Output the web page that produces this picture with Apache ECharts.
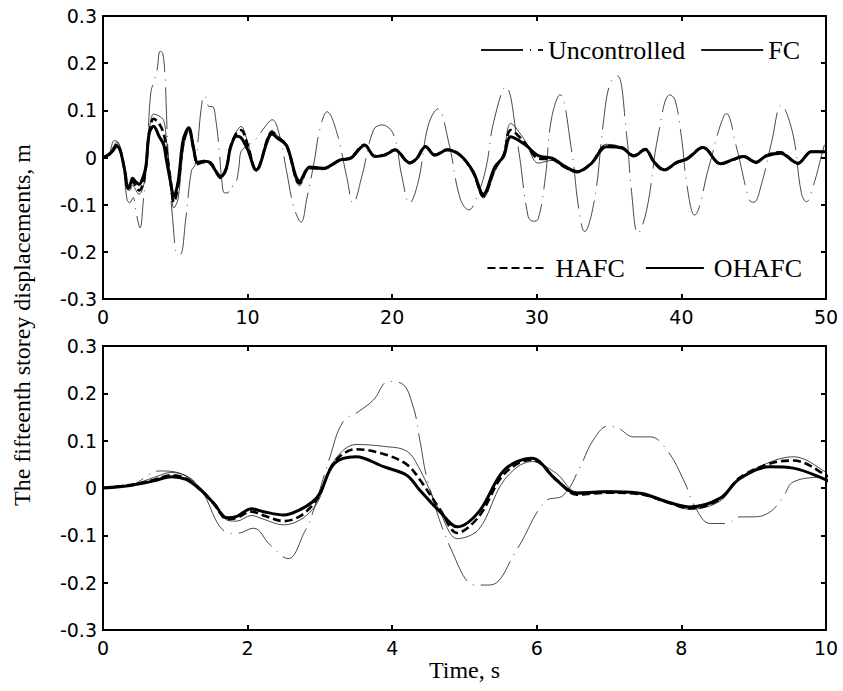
<!DOCTYPE html>
<html>
<head>
<meta charset="utf-8">
<script src="https://cdn.jsdelivr.net/npm/echarts@6/dist/echarts.min.js"></script>
<style>
html,body{margin:0;padding:0;background:#fff;}
#c{width:843px;height:691px;}
</style>
</head>
<body>
<div id="c"></div>
<script>
// ---------- DATA ----------
const yTicks = [-0.3, -0.2, -0.1, 0, 0.1, 0.2, 0.3];
const topXTicks = [0, 10, 20, 30, 40, 50];
const botXTicks = [0, 2, 4, 6, 8, 10];
const seriesNames = ['Uncontrolled', 'FC', 'HAFC', 'OHAFC'];

// Uncontrolled response: [time s, displacement m]
const uncontrolled = [
  [0,0],[0.4,0.007],[0.79,0.036],[1.07,0.031],[1.34,0.0],[1.66,-0.089],[1.85,-0.096],[2.08,-0.085],[2.31,-0.12],[2.56,-0.149],
  [2.79,-0.092],[2.89,-0.057],[3.14,0.066],[3.32,0.14],[3.53,0.161],[3.74,0.186],[3.95,0.225],[4.13,0.221],[4.29,0.172],[4.38,0.103],
  [4.5,0.01],[4.84,-0.138],[5.15,-0.205],[5.35,-0.205],[5.72,-0.131],[6.11,-0.029],[6.37,-0.015],[6.6,0.045],[6.78,0.101],[6.99,0.131],
  [7.13,0.126],[7.34,0.108],[7.57,0.108],[7.8,0.08],[8.03,0.017],[8.21,-0.046],[8.4,-0.075],[8.63,-0.075],[8.81,-0.061],[9.0,-0.061],
  [9.23,-0.05],[9.41,-0.018],[9.55,0.013],[10.0,0.025],[10.6,0.04],[11.2,0.065],[11.7,0.08],[12.2,0.048],[12.7,-0.03],[13.2,-0.105],
  [13.7,-0.137],[14.1,-0.086],[14.6,-0.01],[15.0,0.06],[15.5,0.097],[16.15,0.055],[16.85,-0.04],[17.3,-0.097],[17.9,-0.04],[18.7,0.058],
  [19.3,0.069],[20.1,0.048],[20.65,-0.037],[21.2,-0.097],[21.8,-0.051],[22.5,0.069],[23.15,0.103],[23.9,0.033],[24.7,-0.087],[25.3,-0.111],
  [25.95,-0.076],[26.5,-0.02],[27.0,0.073],[27.85,0.15],[28.7,0.023],[29.4,-0.125],[29.75,-0.135],[30.1,-0.13],[30.6,-0.04],[31.0,0.08],
  [31.6,0.133],[32.4,0.016],[32.9,-0.108],[33.3,-0.157],[34.0,-0.087],[34.6,0.073],[35.06,0.157],[35.57,0.173],[36.2,0.051],[36.55,-0.072],
  [37.0,-0.161],[37.6,-0.111],[38.4,0.048],[39.2,0.133],[39.56,0.122],[40.0,0.044],[40.4,-0.062],[40.9,-0.122],[41.9,-0.02],[42.7,0.069],
  [43.1,0.093],[43.8,0.023],[44.7,-0.09],[45.0,-0.095],[45.55,-0.055],[46.25,0.034],[46.9,0.111],[47.7,0.051],[48.3,-0.076],[48.65,-0.094],
  [49.1,-0.062],[49.7,0.005],[50.0,0.04]
];

// Controlled responses share one time base
const ctlTime = [
  0,0.4,0.7,0.95,1.15,1.35,1.53,1.72,1.85,2.05,
  2.22,2.5,2.72,2.9,3.0,3.2,3.5,3.88,4.2,4.38,
  4.66,4.9,5.2,5.55,5.93,6.27,6.55,6.97,7.43,7.8,
  8.12,8.53,8.81,9.23,9.55,10.0,
  10.6,11.7,12.1,12.7,13.6,14.3,15.2,16.4,17.1,18.1,
  18.8,19.5,20.2,21.2,21.7,22.3,22.96,23.8,24.7,25.6,
  26.3,27.1,27.7,28.2,29.2,30.1,31.1,31.8,32.8,33.8,
  34.8,35.9,36.7,37.5,38.1,38.8,39.7,40.4,41.5,42.7,
  43.5,44.3,45.15,45.85,46.85,48.05,49.0,50.0
];
const fcValues = [
  0,0.007,0.022,0.033,0.025,0.0,-0.03,-0.068,-0.07,-0.058,
  -0.066,-0.078,-0.068,-0.045,-0.02,0.058,0.092,0.088,0.078,0.04,
  -0.05,-0.107,-0.087,0.017,0.056,0.031,-0.008,-0.006,-0.013,-0.03,
  -0.045,-0.028,0.02,0.055,0.066,0.033,
  -0.03,0.058,0.045,0.028,-0.06,-0.024,-0.026,-0.006,0.0,0.028,
  0.004,0.007,0.018,-0.013,-0.003,0.025,0.006,0.018,0.006,-0.034,
  -0.086,-0.03,0.01,0.072,0.035,-0.012,-0.006,-0.02,-0.032,-0.01,
  0.028,0.022,0.005,0.019,-0.011,-0.028,-0.012,-0.001,0.023,-0.015,
  -0.007,0.004,-0.012,0.005,0.012,-0.014,0.014,0.01
];
const hafcValues = [
  0,0.007,0.017,0.027,0.02,-0.004,-0.033,-0.066,-0.063,-0.05,
  -0.058,-0.07,-0.06,-0.036,-0.013,0.055,0.082,0.072,0.05,0.018,
  -0.045,-0.095,-0.06,0.03,0.06,0.018,-0.014,-0.01,-0.013,-0.03,
  -0.043,-0.024,0.022,0.052,0.058,0.027,
  -0.028,0.054,0.043,0.026,-0.055,-0.022,-0.024,-0.006,-0.001,0.027,
  0.003,0.006,0.017,-0.012,-0.002,0.024,0.006,0.017,0.005,-0.032,
  -0.082,-0.024,0.004,0.058,0.03,-0.002,-0.004,-0.018,-0.031,-0.011,
  0.025,0.021,0.004,0.018,-0.01,-0.027,-0.011,-0.002,0.022,-0.014,
  -0.006,0.003,-0.011,0.004,0.011,-0.013,0.013,0.011
];
const ohafcValues = [
  0,0.006,0.015,0.024,0.018,-0.004,-0.032,-0.063,-0.06,-0.044,
  -0.05,-0.057,-0.046,-0.029,-0.011,0.052,0.066,0.045,0.027,-0.004,
  -0.05,-0.082,-0.05,0.038,0.063,0.017,-0.011,-0.008,-0.011,-0.029,
  -0.04,-0.022,0.02,0.045,0.042,0.017,
  -0.026,0.05,0.04,0.025,-0.05,-0.02,-0.023,-0.005,-0.002,0.026,
  0.002,0.005,0.016,-0.011,-0.002,0.023,0.005,0.016,0.005,-0.03,
  -0.078,-0.02,0.002,0.044,0.027,0.004,-0.002,-0.016,-0.03,-0.012,
  0.023,0.02,0.003,0.017,-0.009,-0.026,-0.01,-0.003,0.021,-0.013,
  -0.005,0.002,-0.01,0.003,0.009,-0.012,0.012,0.012
];

// ---------- CHART ----------
const pair = (t, v) => t.map((x, i) => [x, v[i]]);
const dataByName = {
  'Uncontrolled': uncontrolled,
  'FC': pair(ctlTime, fcValues),
  'HAFC': pair(ctlTime, hafcValues),
  'OHAFC': pair(ctlTime, ohafcValues)
};
const lineStyles = {
  'Uncontrolled': {color: '#1a1a1a', width: 0.8, type: [42, 7, 1, 7]},
  'FC': {color: '#1a1a1a', width: 0.8, type: 'solid'},
  'HAFC': {color: '#000', width: 2.6, type: [8, 4]},
  'OHAFC': {color: '#000', width: 3, type: 'solid'}
};

const sans = '"DejaVu Sans", "Liberation Sans", Arial, sans-serif';
const serif = '"Liberation Serif", "Times New Roman", serif';
const fmtY = v => { const r = Math.round(v * 10) / 10; return r === 0 ? '0' : r.toFixed(1); };

function xAx(grid, ticks, pos, labels, extra) {
  return Object.assign({
    type: 'value', gridIndex: grid, position: pos,
    min: ticks[0], max: ticks[ticks.length - 1], interval: ticks[1] - ticks[0],
    axisLine: {show: true, onZero: false, lineStyle: {color: '#000', width: 2}},
    axisTick: {show: true, inside: true, length: 5, lineStyle: {color: '#000', width: 2}},
    axisLabel: {show: labels, color: '#000', fontFamily: sans, fontSize: 19, margin: 8},
    splitLine: {show: false}
  }, extra || {});
}
function yAx(grid, pos, labels) {
  return {
    type: 'value', gridIndex: grid, position: pos,
    min: yTicks[0], max: yTicks[yTicks.length - 1], interval: 0.1,
    axisLine: {show: true, onZero: false, lineStyle: {color: '#000', width: 2}},
    axisTick: {show: true, inside: true, length: 5, lineStyle: {color: '#000', width: 2}},
    axisLabel: {show: labels, color: '#000', fontFamily: sans, fontSize: 19, margin: 6, formatter: fmtY},
    splitLine: {show: false}
  };
}

const series = [];
[[0, 0], [2, 2]].forEach(([xi, yi]) => {
  seriesNames.forEach(name => {
    series.push({
      name: name, type: 'line', xAxisIndex: xi, yAxisIndex: yi,
      data: dataByName[name], symbol: 'none', showSymbol: false,
      smooth: name === 'Uncontrolled' ? 0.4 : 0.35,
      lineStyle: lineStyles[name], itemStyle: {color: lineStyles[name].color},
      clip: true, silent: true, z: 2 + seriesNames.indexOf(name)
    });
  });
});

const legendCommon = {
  padding: 0, itemHeight: 12, selectedMode: false,
  itemStyle: {opacity: 0, borderWidth: 0}
};

const chart = echarts.init(document.getElementById('c'), null, {renderer: 'svg'});
chart.setOption({
  animation: false,
  backgroundColor: '#fff',
  grid: [
    {left: 103, top: 16, width: 723, height: 283},
    {left: 103, top: 346, width: 723, height: 284}
  ],
  xAxis: [
    xAx(0, topXTicks, 'bottom', true),
    xAx(0, topXTicks, 'top', false),
    xAx(1, botXTicks, 'bottom', true, {
      name: 'Time, s', nameLocation: 'middle', nameGap: 28,
      nameTextStyle: {fontFamily: serif, fontSize: 24, color: '#000'}
    }),
    xAx(1, botXTicks, 'top', false)
  ],
  yAxis: [yAx(0, 'left', true), yAx(0, 'right', false), yAx(1, 'left', true), yAx(1, 'right', false)],
  legend: [
    Object.assign({}, legendCommon, {
      data: ['Uncontrolled', 'FC'], right: 43, top: 37,
      itemWidth: 62, itemGap: 15,
      textStyle: {fontFamily: serif, fontSize: 26, color: '#000', lineHeight: 26}
    }),
    Object.assign({}, legendCommon, {
      data: ['HAFC', 'OHAFC'], right: 41, top: 255,
      itemWidth: 58, itemGap: 20,
      textStyle: {fontFamily: serif, fontSize: 26, color: '#000', lineHeight: 26, padding: [0, 0, 0, 5]}
    })
  ],
  graphic: [{
    type: 'text', x: 22, y: 325, rotation: Math.PI / 2,
    style: {
      text: 'The fifteenth storey displacements, m',
      font: '24px ' + serif, fill: '#000',
      textAlign: 'center', textVerticalAlign: 'middle'
    }
  }],
  series: series
});
</script>
</body>
</html>
